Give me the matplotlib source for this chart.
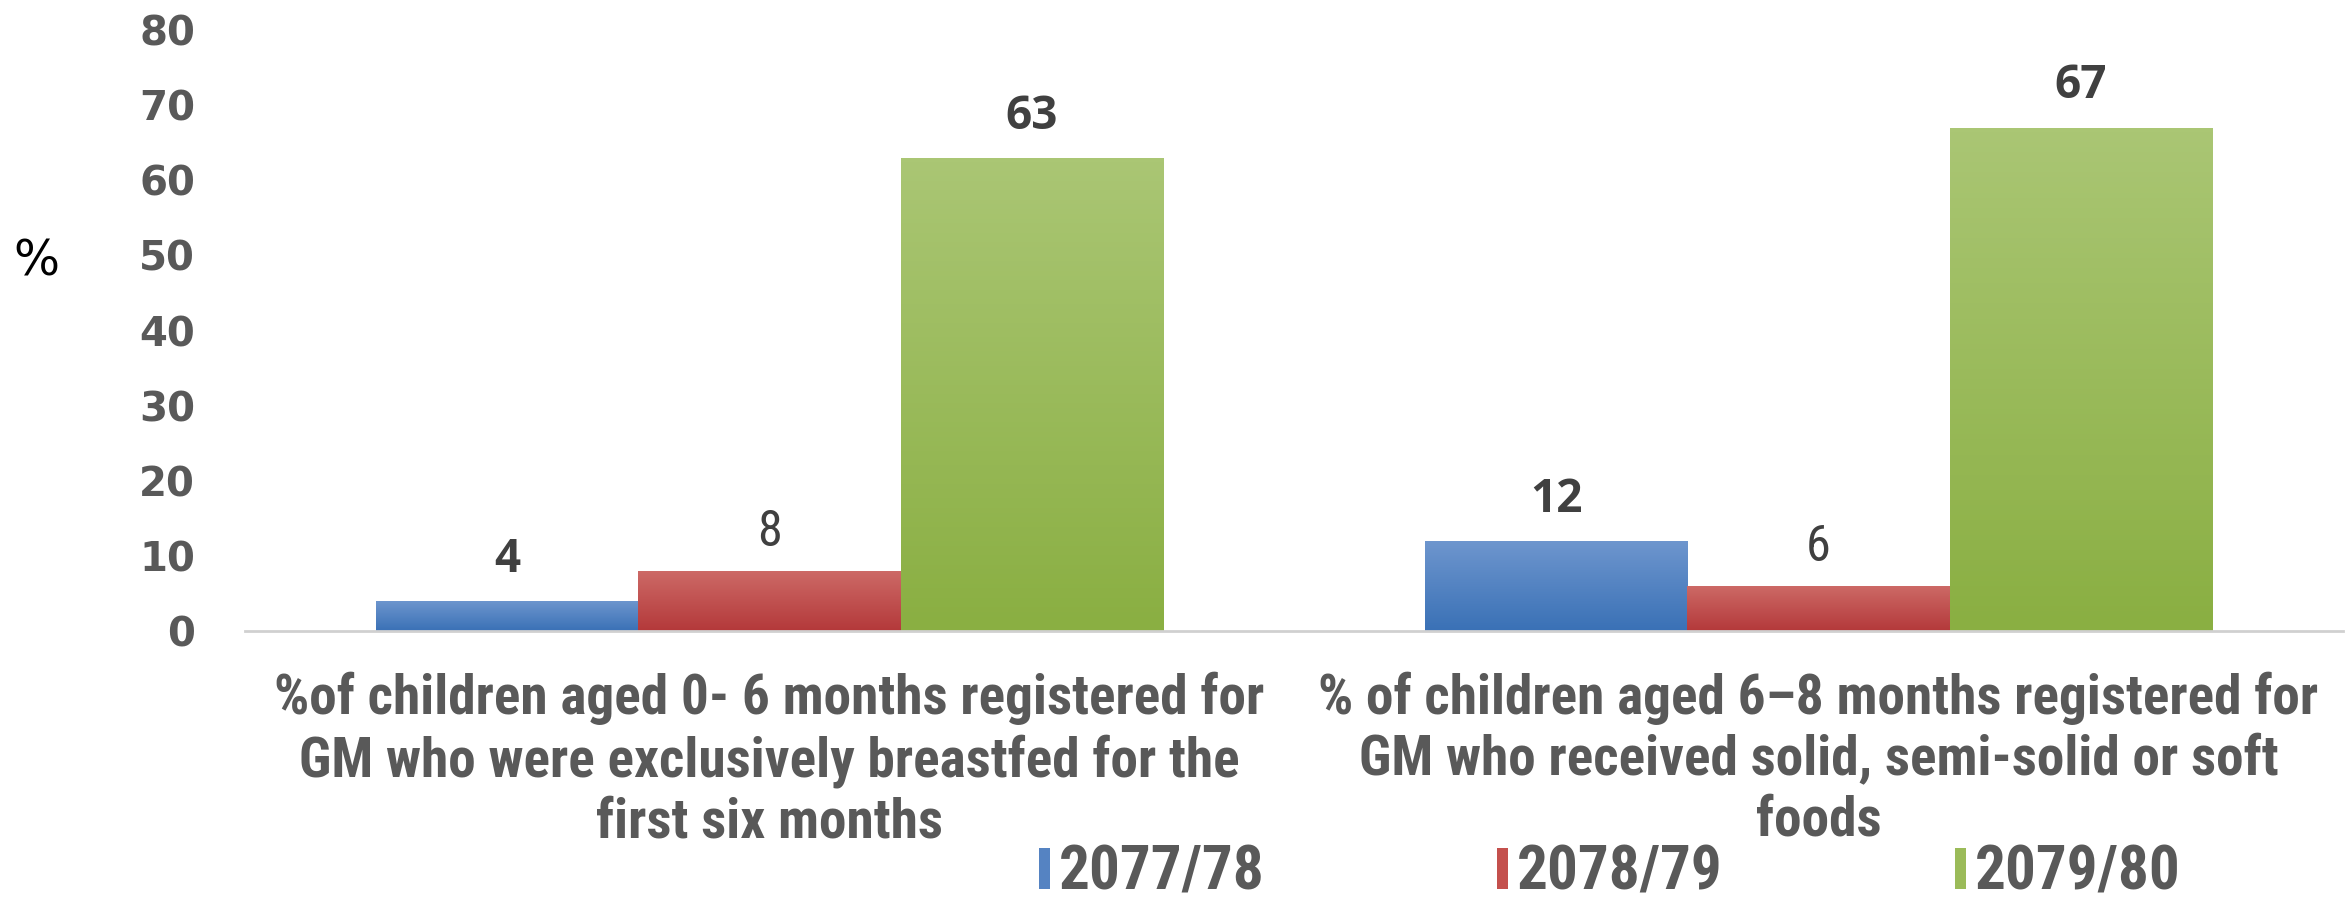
import matplotlib.pyplot as plt
import numpy as np
import matplotlib.patheffects as pe
from matplotlib import font_manager as fm
from matplotlib.colors import LinearSegmentedColormap
from matplotlib.patches import Patch
from matplotlib.textpath import TextPath

# data
categories = ["%of children aged 0- 6 months registered for\nGM who were exclusively breastfed for the\nfirst six months",
              "% of children aged 6\u20138 months registered for\nGM who received solid, semi-solid or soft\nfoods"]
years = ["2077/78", "2078/79", "2079/80"]
v_2077 = [4, 12]
v_2078 = [8, 6]
v_2079 = [63, 67]
series = [v_2077, v_2078, v_2079]
yticks = [0, 10, 20, 30, 40, 50, 60, 70, 80]

# style: (top colour, bottom colour) for the gradient fill
grads = [("#6E96CE", "#3A71B6"), ("#CD6A67", "#B4393A"), ("#AAC674", "#8AAF42")]
mids = ["#5583C2", "#C4504D", "#9BBB59"]
label_bold = [True, False, True]
grey = "#595959"
DPI = 100

# look for a narrow font (the original uses a condensed Calibri look)
fonts = fm.fontManager.ttflist
narrow_fam, narrow_str = "Liberation Sans", "normal"
for fam, st in [("Liberation Sans Narrow", None), ("Roboto Condensed", None),
                ("Open Sans Condensed", None), ("DejaVu Sans", "condensed"),
                ("Open Sans", "condensed"), ("Roboto", "condensed")]:
    if any(f.name == fam and (st is None or f.stretch == st) for f in fonts):
        narrow_fam, narrow_str = fam, (st or "normal")
        break


def narrow_fp(weight="bold", size=None):
    return fm.FontProperties(family=[narrow_fam, "DejaVu Sans"], stretch=narrow_str,
                             weight=weight, size=size)


def fit_size(text, width_px, max_pt, weight="bold"):
    w = TextPath((0, 0), text, size=100, prop=narrow_fp(weight)).get_extents().width
    return min(max_pt, width_px * 72 / DPI * 100 / w)


cat_size = fit_size(categories[0].split("\n")[0], 986, 40)
leg_size = fit_size(years[0], 204, 44)

fig = plt.figure(figsize=(23.5, 8.98), dpi=DPI)
ax = fig.add_axes([0.1043, 0.2973, 0.8927, 0.6693])

x = np.arange(len(categories))
w = 0.25
for i, vals in enumerate(series):
    bars = ax.bar(x + (i - 1) * w, vals, w, color=mids[i], zorder=2,
                  path_effects=[pe.SimplePatchShadow(offset=(0, 0), alpha=0.35, shadow_rgbFace="#888888"),
                                pe.Normal()])
    cmap = LinearSegmentedColormap.from_list("g%d" % i, [grads[i][1], grads[i][0]])
    for b in bars:
        x0, h, bw = b.get_x(), b.get_height(), b.get_width()
        im = ax.imshow(np.linspace(0, 1, 100).reshape(-1, 1), cmap=cmap, origin="lower",
                       extent=[x0, x0 + bw, 0, h], aspect="auto", zorder=3)
        im.set_clip_path(b)
        if label_bold[i]:
            ax.annotate(str(h), (x0 + bw / 2, h), xytext=(0, 30), textcoords="offset points",
                        ha="center", va="center", fontsize=33, fontweight="bold",
                        color="#404040", family=["Open Sans", "DejaVu Sans"])
        else:
            ax.annotate(str(h), (x0 + bw / 2, h), xytext=(0, 28), textcoords="offset points",
                        ha="center", va="center", color="#404040",
                        fontproperties=narrow_fp("normal", 36))

ax.set_xlim(-0.5, 1.5)
ax.set_ylim(0, 80)
ax.set_yticks(yticks)
ax.set_yticklabels([str(t) for t in yticks], fontsize=29, fontweight="bold", color=grey,
                   family=["DejaVu Sans"])
ax.set_xticks(x)
ax.set_xticklabels(categories, color=grey, fontproperties=narrow_fp("bold", cat_size),
                   linespacing=1.22)
ax.tick_params(axis="y", length=0, pad=36)
ax.tick_params(axis="x", length=0, pad=29)
for s in ["top", "right", "left"]:
    ax.spines[s].set_visible(False)
ax.spines["bottom"].set_color("#D0D0D0")
ax.spines["bottom"].set_linewidth(2)
ax.spines["bottom"].set_zorder(4)

fig.text(36 / 2350, 1 - 262 / 898, "%", fontsize=35, ha="center", va="center", color="black")

handles = [Patch(facecolor=mids[i]) for i in range(3)]
fig.legend(handles, years, ncol=3, loc="center", bbox_to_anchor=(0.6850, 0.028), frameon=False,
           handlelength=0.18, handleheight=0.65, handletextpad=0.15, columnspacing=3.8,
           borderpad=0.05, labelcolor=grey, prop=narrow_fp("bold", leg_size))

fig.savefig("out.png", dpi=DPI)
